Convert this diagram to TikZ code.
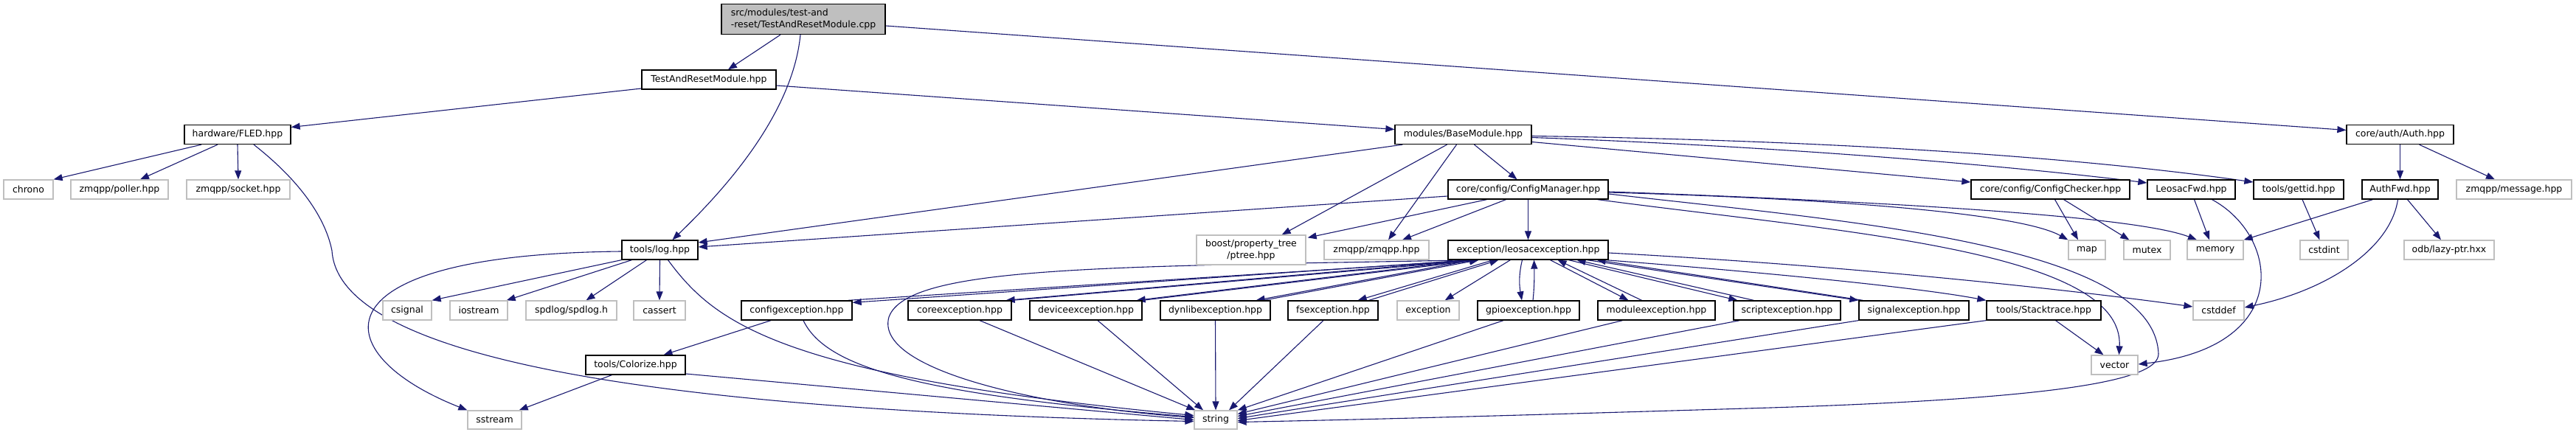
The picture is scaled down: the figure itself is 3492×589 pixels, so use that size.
\documentclass[tikz,border=0pt]{standalone}
\usepackage{fontspec}
\setmainfont{DejaVu Sans}
\usetikzlibrary{arrows.meta,calc}
\definecolor{edgeblue}{HTML}{191970}
\definecolor{extgray}{HTML}{BFBFBF}
\definecolor{topgray}{HTML}{BFBFBF}
\pgfdeclarelayer{back}
\pgfdeclarelayer{bg}
\pgfsetlayers{back,bg,main}
\newcommand\dxfont{\fontsize{12.5}{15.3}\selectfont}
\tikzset{
  docnode/.style={draw=black, line width=1.3pt, fill=white, inner sep=0pt, minimum height=26pt, font=\dxfont},
  extnode/.style={draw=extgray, line width=1.3pt, fill=white, inner sep=0pt, minimum height=26pt, font=\dxfont},
  topnode/.style={docnode, fill=topgray},
  incl/.style={draw=edgeblue, line width=1.1pt, -{Triangle[length=12pt,width=9pt]}},
}
\begin{document}
\begin{tikzpicture}[x=1pt,y=-1pt]
\begin{pgfonlayer}{back}
\fill[white] (0,0) rectangle (3492,589);
\end{pgfonlayer}
\useasboundingbox (0,0) rectangle (3492,589);

% nodes
\node[topnode,minimum width=222pt,minimum height=41pt,align=left] (cpp) at (1089,26) {src/modules/test-and\\-reset/TestAndResetModule.cpp};
\node[docnode,minimum width=182pt] (tarm) at (961,108) {TestAndResetModule.hpp};
\node[docnode,minimum width=144pt] (fled) at (322,182.5) {hardware/FLED.hpp};
\node[docnode,minimum width=185pt] (base) at (1983.5,182.5) {modules/BaseModule.hpp};
\node[docnode,minimum width=145pt] (auth) at (3253.5,182.5) {core/auth/Auth.hpp};
\node[extnode,minimum width=67pt] (chrono) at (38.5,257) {chrono};
\node[extnode,minimum width=132pt] (poller) at (162,257) {zmqpp/poller.hpp};
\node[extnode,minimum width=140pt] (socket) at (323,257) {zmqpp/socket.hpp};
\node[docnode,minimum width=217pt] (cm) at (2071.5,257) {core/config/ConfigManager.hpp};
\node[docnode,minimum width=215pt] (cc) at (2779.5,257) {core/config/ConfigChecker.hpp};
\node[docnode,minimum width=119pt] (lfwd) at (2970.5,257) {LeosacFwd.hpp};
\node[docnode,minimum width=122pt] (gettid) at (3116,257) {tools/gettid.hpp};
\node[docnode,minimum width=103pt] (afwd) at (3253.5,257) {AuthFwd.hpp};
\node[extnode,minimum width=156pt] (msg) at (3408,257) {zmqpp/message.hpp};
\node[docnode,minimum width=103pt] (log) at (894.5,339) {tools/log.hpp};
\node[extnode,minimum width=148pt,minimum height=40pt,align=center] (boost) at (1696,339) {boost/property\_tree\\/ptree.hpp};
\node[extnode,minimum width=142pt] (zmq) at (1866,339) {zmqpp/zmqpp.hpp};
\node[docnode,minimum width=217pt] (leo) at (2071.5,339) {exception/leosacexception.hpp};
\node[extnode,minimum width=50pt] (map) at (2829,339) {map};
\node[extnode,minimum width=63pt] (mutex) at (2910.5,339) {mutex};
\node[extnode,minimum width=76pt] (memory) at (3003,339) {memory};
\node[extnode,minimum width=65pt] (cstdint) at (3150.5,339) {cstdint};
\node[extnode,minimum width=122pt] (odb) at (3320,339) {odb/lazy-ptr.hxx};
\node[extnode,minimum width=66pt] (csignal) at (552,421) {csignal};
\node[extnode,minimum width=78pt] (iostream) at (649,421) {iostream};
\node[extnode,minimum width=123pt] (spdlog) at (774.5,421) {spdlog/spdlog.h};
\node[extnode,minimum width=70pt] (cassert) at (894,421) {cassert};
\node[docnode,minimum width=150pt] (cfgx) at (1080,421) {configexception.hpp};
\node[docnode,minimum width=140pt] (corex) at (1301,421) {coreexception.hpp};
\node[docnode,minimum width=152pt] (devx) at (1472,421) {deviceexception.hpp};
\node[docnode,minimum width=149pt] (dynx) at (1647.5,421) {dynlibexception.hpp};
\node[docnode,minimum width=122pt] (fsx) at (1807,421) {fsexception.hpp};
\node[extnode,minimum width=84pt] (exc) at (1936,421) {exception};
\node[docnode,minimum width=138pt] (gpiox) at (2072,421) {gpioexception.hpp};
\node[docnode,minimum width=159pt] (modx) at (2245.5,421) {moduleexception.hpp};
\node[docnode,minimum width=145pt] (scrx) at (2422.5,421) {scriptexception.hpp};
\node[docnode,minimum width=149pt] (sigx) at (2594.5,421) {signalexception.hpp};
\node[docnode,minimum width=155pt] (stack) at (2770.5,421) {tools/Stacktrace.hpp};
\node[extnode,minimum width=69pt] (cstddef) at (3007.5,421) {cstddef};
\node[docnode,minimum width=135pt] (color) at (861.5,495) {tools/Colorize.hpp};
\node[extnode,minimum width=63pt] (vector) at (2866.5,495) {vector};
\node[extnode,minimum width=73pt,minimum height=25pt] (sstream) at (670.5,569.5) {sstream};
\node[extnode,minimum width=58pt,minimum height=25pt] (string) at (1648,569.5) {string};

\begin{pgfonlayer}{bg}
% top file
\draw[incl] ($(cpp.south)+(-31,0)$) -- ($(tarm.north)+(26,0)$);
\draw[incl] ($(cpp.south)+(-4,0)$) .. controls (1075,150) and (990,250) .. ($(log.north)+(17,0)$);
\draw[incl] ($(cpp.east)+(0,9)$) -- ($(auth.west)+(0,-6)$);
% TestAndResetModule.hpp
\draw[incl] ($(tarm.west)+(0,12)$) -- ($(fled.east)+(0,-10)$);
\draw[incl] ($(tarm.east)+(0,8)$) -- ($(base.west)+(0,-7)$);
% FLED
\draw[incl] ($(fled.south)+(-49,0)$) -- (chrono.north east);
\draw[incl] ($(fled.south)+(-27,0)$) -- ($(poller.north)+(28,0)$);
\draw[incl] (fled.south) -- (socket.north);
\draw[incl] ($(fled.south)+(22,0)$) .. controls (400,240) and (440,290) .. (450,340) .. controls (458,470) and (800,555) .. ($(string.west)+(0,2)$);
% BaseModule
\draw[incl] ($(base.south west)+(11,0)$) -- ($(log.east)+(0,-10)$);
\draw[incl] ($(base.south)+(-22,0)$) -- ($(boost.north east)+(-33,0)$);
\draw[incl] ($(base.south)+(-9,0)$) -- ($(zmq.north)+(16,0)$);
\draw[incl] ($(base.south)+(15,0)$) -- ($(cm.north)+(-15,0)$);
\draw[incl] ($(base.east)+(0,10)$) -- ($(cc.west)+(0,-10)$);
\draw[incl] ($(base.east)+(0,4)$) .. controls (2450,200) and (2750,228) .. ($(lfwd.west)+(0,-9)$);
\draw[incl] ($(base.east)+(0,2)$) .. controls (2600,192) and (2900,225) .. ($(gettid.west)+(0,-10)$);
% ConfigManager
\draw[incl] ($(cm.west)+(0,9)$) -- ($(log.east)+(0,-4)$);
\draw[incl] ($(cm.south)+(-56,0)$) -- ($(boost.north east)+(2,4)$);
\draw[incl] ($(cm.south)+(-30,0)$) -- ($(zmq.north)+(35,0)$);
\draw[incl] (cm.south) -- (leo.north);
\draw[incl] ($(cm.east)+(0,4)$) .. controls (2500,270) and (2740,290) .. (map.north west);
\draw[incl] ($(cm.east)+(0,3)$) .. controls (2600,275) and (2900,295) .. ($(memory.north)+(-25,0)$);
\draw[incl] ($(cm.south east)+(-15,0)$) .. controls (2500,315) and (2880,340) .. ($(vector.north)+(6,0)$);
\draw[incl] ($(cm.east)+(0,6)$) .. controls (2500,300) and (2920,330) .. (2926,480) .. controls (2926,515) and (2800,540) .. (2400,553) .. controls (2100,562) and (1900,568) .. ($(string.east)+(0,3)$);
% ConfigChecker, LeosacFwd, gettid, AuthFwd, Auth
\draw[incl] ($(cc.south)+(6,0)$) -- ($(map.north)+(-12,0)$);
\draw[incl] ($(cc.south)+(18,0)$) -- ($(mutex.north west)+(8,0)$);
\draw[incl] ($(lfwd.south)+(4,0)$) -- ($(memory.north)+(-8,0)$);
\draw[incl] ($(lfwd.south)+(28,0)$) .. controls (3090,320) and (3110,470) .. ($(vector.east)+(0,-1)$);
\draw[incl] ($(gettid.south)+(5,0)$) -- ($(cstdint.north)+(-6,0)$);
\draw[incl] ($(afwd.south)+(-37,0)$) -- (memory.north east);
\draw[incl] ($(afwd.south)+(-3,0)$) .. controls (3240,340) and (3150,395) .. ($(cstddef.east)+(0,-4)$);
\draw[incl] ($(afwd.south)+(10,0)$) -- ($(odb.north)+(-11,0)$);
\draw[incl] (auth.south) -- (afwd.north);
\draw[incl] ($(auth.south)+(26,0)$) -- ($(msg.north)+(-26,0)$);
% log
\draw[incl] (log.south west) -- (csignal.north east);
\draw[incl] ($(log.south west)+(14,0)$) -- ($(iostream.north east)+(-2,0)$);
\draw[incl] ($(log.south)+(-18,0)$) -- ($(spdlog.north)+(20,0)$);
\draw[incl] (log.south) -- (cassert.north);
\draw[incl] ($(log.west)+(0,2)$) .. controls (420,345) and (440,480) .. (sstream.north west);
\draw[incl] ($(log.south)+(11,0)$) .. controls (970,440) and (1060,510) .. ($(string.west)+(0,-6)$);
% configexception, Colorize
\draw[incl] ($(cfgx.south)+(-35,0)$) -- ($(color.north)+(38,0)$);
\draw[incl] ($(cfgx.south)+(9,0)$) .. controls (1120,500) and (1250,535) .. ($(string.west)+(0,-4)$);
\draw[incl] ($(color.south west)+(36,0)$) -- ($(sstream.north east)+(-4,0)$);
\draw[incl] ($(color.east)+(0,12)$) -- (string.west);
% leosacexception <-> exceptions
\draw[incl] ($(leo.south west)+(30,0)$) -- ($(cfgx.north east)+(0,3)$);
\draw[incl] ($(cfgx.north east)+(-6,0)$) -- ($(leo.south west)+(42,0)$);
\draw[incl] ($(leo.south west)+(30,0)$) -- ($(corex.north east)+(-8,0)$);
\draw[incl] (corex.north east) -- ($(leo.south west)+(42,0)$);
\draw[incl] ($(leo.south west)+(32,0)$) -- ($(devx.north east)+(-8,0)$);
\draw[incl] (devx.north east) -- ($(leo.south west)+(42,0)$);
\draw[incl] ($(leo.south west)+(34,0)$) -- ($(dynx.north east)+(-20,0)$);
\draw[incl] ($(dynx.north east)+(-10,0)$) -- ($(leo.south west)+(42,0)$);
\draw[incl] ($(leo.south west)+(62,0)$) -- ($(fsx.north east)+(-28,0)$);
\draw[incl] ($(fsx.north east)+(-13,0)$) -- ($(leo.south west)+(69,0)$);
\draw[incl] ($(leo.south west)+(85,0)$) -- ($(exc.north east)+(-20,0)$);
\draw[incl] ($(leo.south)+(-8,0)$) .. controls (2058,375) and (2060,390) .. ($(gpiox.north)+(-9,0)$);
\draw[incl] ($(gpiox.north)+(6,0)$) .. controls (2080,390) and (2080,370) .. ($(leo.south)+(8,0)$);
\draw[incl] ($(leo.south)+(30,0)$) -- ($(modx.north)+(-38,0)$);
\draw[incl] ($(modx.north)+(-20,0)$) -- ($(leo.south)+(40,0)$);
\draw[incl] ($(leo.south)+(55,0)$) -- ($(scrx.north west)+(6,0)$);
\draw[incl] ($(scrx.north west)+(28,0)$) -- ($(leo.south)+(66,0)$);
\draw[incl] ($(leo.south)+(80,0)$) -- (sigx.north west);
\draw[incl] ($(sigx.north west)+(6,0)$) -- ($(leo.south east)+(-16,0)$);
\draw[incl] ($(leo.south east)+(-4,0)$) .. controls (2400,370) and (2600,390) .. (stack.north west);
\draw[incl] ($(leo.east)+(0,4)$) .. controls (2500,360) and (2800,392) .. ($(cstddef.west)+(0,-5)$);
\draw[incl] ($(leo.south west)+(36,0)$) .. controls (1500,362) and (1230,360) .. (1205,430) .. controls (1185,500) and (1400,550) .. ($(string.west)+(0,-3)$);
% exceptions -> string, vector
\draw[incl] ($(corex.south)+(27,0)$) -- ($(string.north west)+(2,0)$);
\draw[incl] ($(devx.south)+(16,0)$) -- ($(string.north)+(-17,0)$);
\draw[incl] (dynx.south) -- (string.north);
\draw[incl] ($(fsx.south)+(-13,0)$) -- ($(string.north)+(18,0)$);
\draw[incl] ($(gpiox.south)+(-34,0)$) -- (string.north east);
\draw[incl] ($(modx.south)+(-46,0)$) -- ($(string.east)+(0,-8)$);
\draw[incl] ($(scrx.south west)+(9,0)$) -- ($(string.east)+(0,-5)$);
\draw[incl] (sigx.south west) -- ($(string.east)+(0,-2)$);
\draw[incl] (stack.south west) -- ($(string.east)+(0,1)$);
\draw[incl] ($(stack.south)+(16,0)$) -- ($(vector.north)+(-15,0)$);
\end{pgfonlayer}
\end{tikzpicture}
\end{document}
